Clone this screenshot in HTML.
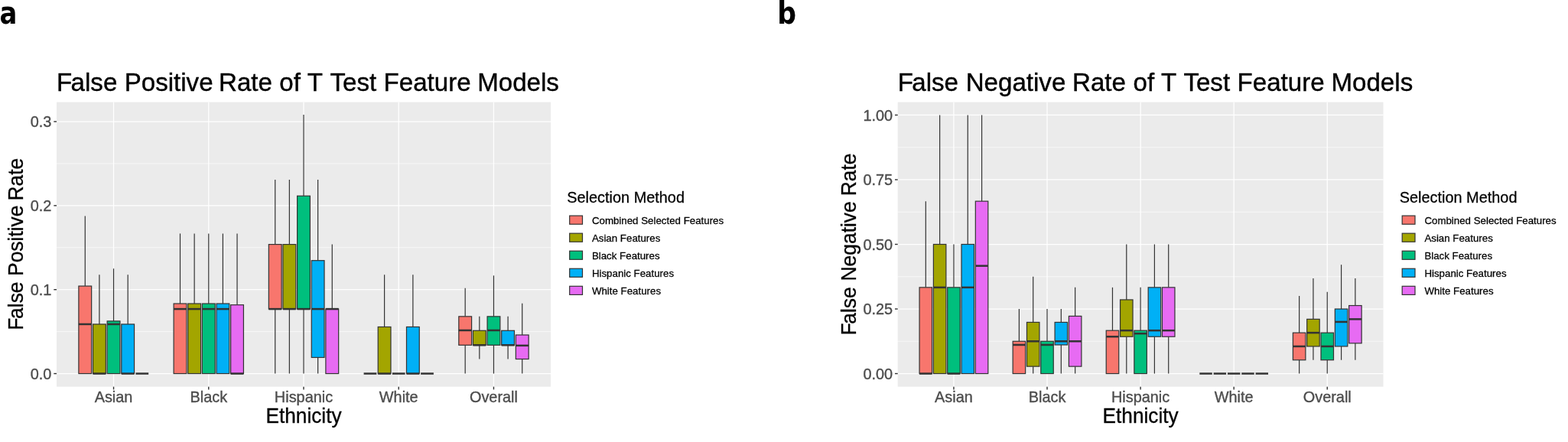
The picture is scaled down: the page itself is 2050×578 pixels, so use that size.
<!DOCTYPE html>
<html lang="en">
<head>
<meta charset="utf-8">
<title>False Positive and False Negative Rate of T Test Feature Models</title>
<style>
html,body{margin:0;padding:0;background:#fff;}
body{width:2050px;height:578px;overflow:hidden;font-family:"Liberation Sans",sans-serif;}
svg{display:block;}
text{font-family:"Liberation Sans",sans-serif;}
.gm{stroke:#fff;stroke-width:0.6;}
.gM{stroke:#fff;stroke-width:1.25;}
.w{stroke:#333;stroke-width:1.2;}
.b{stroke:#333;stroke-width:1.2;}
.m{stroke:#333;stroke-width:2.5;}
.t{stroke:#333;stroke-width:1.4;}
.k{stroke:#333;stroke-width:1.2;}
.tl{font-size:19.9px;fill:#4D4D4D;stroke:#4D4D4D;stroke-width:0.36px;}
.ti{font-size:33.1px;fill:#000;stroke:#000;stroke-width:0.4px;}
.at{font-size:26.25px;fill:#000;stroke:#000;stroke-width:0.32px;}
.yt{font-size:26.42px;}
.lt{font-size:19.9px;fill:#000;stroke:#000;stroke-width:0.25px;}
.lg{font-size:13.3px;fill:#000;stroke:#000;stroke-width:0.26px;}
.pl{font-family:"DejaVu Sans","Liberation Sans",sans-serif;font-size:39.4px;font-weight:bold;fill:#000;}
</style>
</head>
<body>
<svg width="2050" height="578" viewBox="0 0 2050 578">
<rect x="0" y="0" width="2050" height="578" fill="#fff"/>
<g class="panel">
<rect x="74" y="133.55" width="646" height="372.15" fill="#EBEBEB"/>
<line class="gm" x1="74" x2="720" y1="433.62" y2="433.62"/>
<line class="gm" x1="74" x2="720" y1="323.77" y2="323.77"/>
<line class="gm" x1="74" x2="720" y1="213.93" y2="213.93"/>
<line class="gM" x1="74" x2="720" y1="488.55" y2="488.55"/>
<line class="gM" x1="74" x2="720" y1="378.7" y2="378.7"/>
<line class="gM" x1="74" x2="720" y1="268.85" y2="268.85"/>
<line class="gM" x1="74" x2="720" y1="159" y2="159"/>
<line class="gM" x1="148.54" x2="148.54" y1="133.55" y2="505.7"/>
<line class="gM" x1="272.77" x2="272.77" y1="133.55" y2="505.7"/>
<line class="gM" x1="397" x2="397" y1="133.55" y2="505.7"/>
<line class="gM" x1="521.23" x2="521.23" y1="133.55" y2="505.7"/>
<line class="gM" x1="645.46" x2="645.46" y1="133.55" y2="505.7"/>
<line class="w" x1="111.27" x2="111.27" y1="282.58" y2="374.09"/>
<rect class="b" x="102.88" y="374.09" width="16.77" height="114.46" fill="#F8766D"/>
<line class="m" x1="102.88" x2="119.65" y1="423.96" y2="423.96"/>
<line class="w" x1="129.9" x2="129.9" y1="359.37" y2="423.96"/>
<rect class="b" x="121.52" y="423.96" width="16.77" height="64.59" fill="#A3A500"/>
<line class="m" x1="121.52" x2="138.29" y1="488.55" y2="488.55"/>
<line class="w" x1="148.54" x2="148.54" y1="351.24" y2="419.89"/>
<rect class="b" x="140.15" y="419.89" width="16.77" height="68.66" fill="#00BF7D"/>
<line class="m" x1="140.15" x2="156.92" y1="423.96" y2="423.96"/>
<line class="w" x1="167.17" x2="167.17" y1="359.37" y2="423.96"/>
<rect class="b" x="158.79" y="423.96" width="16.77" height="64.59" fill="#00B0F6"/>
<line class="m" x1="158.79" x2="175.56" y1="488.55" y2="488.55"/>
<line class="m" x1="177.42" x2="194.19" y1="488.55" y2="488.55"/>
<line class="w" x1="235.5" x2="235.5" y1="305.43" y2="397.04"/>
<rect class="b" x="227.11" y="397.04" width="16.77" height="91.51" fill="#F8766D"/>
<line class="m" x1="227.11" x2="243.89" y1="404.08" y2="404.08"/>
<line class="w" x1="254.13" x2="254.13" y1="305.43" y2="397.04"/>
<rect class="b" x="245.75" y="397.04" width="16.77" height="91.51" fill="#A3A500"/>
<line class="m" x1="245.75" x2="262.52" y1="404.08" y2="404.08"/>
<line class="w" x1="272.77" x2="272.77" y1="305.43" y2="397.04"/>
<rect class="b" x="264.38" y="397.04" width="16.77" height="91.51" fill="#00BF7D"/>
<line class="m" x1="264.38" x2="281.15" y1="404.08" y2="404.08"/>
<line class="w" x1="291.4" x2="291.4" y1="305.43" y2="397.04"/>
<rect class="b" x="283.02" y="397.04" width="16.77" height="91.51" fill="#00B0F6"/>
<line class="m" x1="283.02" x2="299.79" y1="404.08" y2="404.08"/>
<line class="w" x1="310.04" x2="310.04" y1="305.43" y2="398.69"/>
<rect class="b" x="301.65" y="398.69" width="16.77" height="89.86" fill="#E76BF3"/>
<line class="m" x1="301.65" x2="318.42" y1="488.55" y2="488.55"/>
<line class="w" x1="359.73" x2="359.73" y1="235.02" y2="319.6"/>
<line class="w" x1="359.73" x2="359.73" y1="404.08" y2="488.55"/>
<rect class="b" x="351.35" y="319.6" width="16.77" height="84.47" fill="#F8766D"/>
<line class="m" x1="351.35" x2="368.12" y1="404.08" y2="404.08"/>
<line class="w" x1="378.37" x2="378.37" y1="235.02" y2="319.6"/>
<line class="w" x1="378.37" x2="378.37" y1="404.08" y2="488.55"/>
<rect class="b" x="369.98" y="319.6" width="16.77" height="84.47" fill="#A3A500"/>
<line class="m" x1="369.98" x2="386.75" y1="404.08" y2="404.08"/>
<line class="w" x1="397" x2="397" y1="149.99" y2="256.22"/>
<line class="w" x1="397" x2="397" y1="404.08" y2="488.55"/>
<rect class="b" x="388.61" y="256.22" width="16.77" height="147.86" fill="#00BF7D"/>
<line class="m" x1="388.61" x2="405.39" y1="404.08" y2="404.08"/>
<line class="w" x1="415.63" x2="415.63" y1="235.02" y2="340.69"/>
<line class="w" x1="415.63" x2="415.63" y1="467.46" y2="488.55"/>
<rect class="b" x="407.25" y="340.69" width="16.77" height="126.77" fill="#00B0F6"/>
<line class="m" x1="407.25" x2="424.02" y1="404.08" y2="404.08"/>
<line class="w" x1="434.27" x2="434.27" y1="319.6" y2="404.08"/>
<rect class="b" x="425.88" y="404.08" width="16.77" height="84.47" fill="#E76BF3"/>
<line class="m" x1="425.88" x2="442.65" y1="404.08" y2="404.08"/>
<line class="m" x1="475.58" x2="492.35" y1="488.55" y2="488.55"/>
<line class="w" x1="502.6" x2="502.6" y1="359.37" y2="427.47"/>
<rect class="b" x="494.21" y="427.47" width="16.77" height="61.08" fill="#A3A500"/>
<line class="m" x1="494.21" x2="510.98" y1="488.55" y2="488.55"/>
<line class="m" x1="512.85" x2="529.62" y1="488.55" y2="488.55"/>
<line class="w" x1="539.87" x2="539.87" y1="359.37" y2="427.47"/>
<rect class="b" x="531.48" y="427.47" width="16.77" height="61.08" fill="#00B0F6"/>
<line class="m" x1="531.48" x2="548.25" y1="488.55" y2="488.55"/>
<line class="m" x1="550.11" x2="566.89" y1="488.55" y2="488.55"/>
<line class="w" x1="608.19" x2="608.19" y1="376.72" y2="413.85"/>
<line class="w" x1="608.19" x2="608.19" y1="451.31" y2="488.55"/>
<rect class="b" x="599.81" y="413.85" width="16.77" height="37.46" fill="#F8766D"/>
<line class="m" x1="599.81" x2="616.58" y1="431.98" y2="431.98"/>
<line class="w" x1="626.83" x2="626.83" y1="413.85" y2="432.31"/>
<line class="w" x1="626.83" x2="626.83" y1="451.31" y2="469.55"/>
<rect class="b" x="618.44" y="432.31" width="16.77" height="19" fill="#A3A500"/>
<line class="m" x1="618.44" x2="635.21" y1="451.31" y2="451.31"/>
<line class="w" x1="645.46" x2="645.46" y1="360.36" y2="413.85"/>
<line class="w" x1="645.46" x2="645.46" y1="451.31" y2="488.55"/>
<rect class="b" x="637.08" y="413.85" width="16.77" height="37.46" fill="#00BF7D"/>
<line class="m" x1="637.08" x2="653.85" y1="431.98" y2="431.98"/>
<line class="w" x1="664.1" x2="664.1" y1="413.85" y2="432.31"/>
<line class="w" x1="664.1" x2="664.1" y1="451.31" y2="469.55"/>
<rect class="b" x="655.71" y="432.31" width="16.77" height="19" fill="#00B0F6"/>
<line class="m" x1="655.71" x2="672.48" y1="451.31" y2="451.31"/>
<line class="w" x1="682.73" x2="682.73" y1="396.72" y2="438.02"/>
<line class="w" x1="682.73" x2="682.73" y1="469.55" y2="488.55"/>
<rect class="b" x="674.35" y="438.02" width="16.77" height="31.53" fill="#E76BF3"/>
<line class="m" x1="674.35" x2="691.12" y1="451.86" y2="451.86"/>
<line class="t" x1="70.3" x2="74" y1="488.55" y2="488.55"/>
<text class="tl" text-anchor="end" x="67.4" transform="matrix(1 0 0 1.03 0 495.65)">0.0</text>
<line class="t" x1="70.3" x2="74" y1="378.7" y2="378.7"/>
<text class="tl" text-anchor="end" x="67.4" transform="matrix(1 0 0 1.03 0 385.8)">0.1</text>
<line class="t" x1="70.3" x2="74" y1="268.85" y2="268.85"/>
<text class="tl" text-anchor="end" x="67.4" transform="matrix(1 0 0 1.03 0 275.95)">0.2</text>
<line class="t" x1="70.3" x2="74" y1="159" y2="159"/>
<text class="tl" text-anchor="end" x="67.4" transform="matrix(1 0 0 1.03 0 166.1)">0.3</text>
<line class="t" x1="148.54" x2="148.54" y1="505.7" y2="509.4"/>
<text class="tl" text-anchor="middle" x="148.54" transform="matrix(1 0 0 1.03 0 526.1)">Asian</text>
<line class="t" x1="272.77" x2="272.77" y1="505.7" y2="509.4"/>
<text class="tl" text-anchor="middle" x="272.77" transform="matrix(1 0 0 1.03 0 526.1)">Black</text>
<line class="t" x1="397" x2="397" y1="505.7" y2="509.4"/>
<text class="tl" text-anchor="middle" x="397" transform="matrix(1 0 0 1.03 0 526.1)">Hispanic</text>
<line class="t" x1="521.23" x2="521.23" y1="505.7" y2="509.4"/>
<text class="tl" text-anchor="middle" x="521.23" transform="matrix(1 0 0 1.03 0 526.1)">White</text>
<line class="t" x1="645.46" x2="645.46" y1="505.7" y2="509.4"/>
<text class="tl" text-anchor="middle" x="645.46" transform="matrix(1 0 0 1.03 0 526.1)">Overall</text>
<text class="ti" transform="matrix(1 0 0 1.03 0 119.4)"><tspan x="74.1 92.6">False </tspan><tspan x="162.7">Positive </tspan><tspan x="286">Rate </tspan><tspan x="365.3">of </tspan><tspan x="401.8">T </tspan><tspan x="431.5">Test </tspan><tspan x="501.6">Feature </tspan><tspan x="624.2">Models</tspan></text>
<text class="at" text-anchor="middle" x="397" transform="matrix(1 0 0 1.03 0 552.9)">Ethnicity</text>
<text class="at yt" transform="translate(29.95 319.02) rotate(-90) scale(1 1.03)"><tspan x="-112.67 -97.9">False </tspan><tspan x="-41.94">Positive </tspan><tspan x="56.49">Rate</tspan></text>
<text class="lt" x="741.3" transform="matrix(1 0 0 1.03 0 264.7)">Selection Method</text>
<rect class="k" x="744.7" y="282.1" width="16.8" height="11.1" fill="#F8766D"/>
<text class="lg" x="773.9" transform="matrix(1 0 0 1.03 0 292.85)">Combined Selected Features</text>
<rect class="k" x="744.7" y="305.15" width="16.8" height="11.1" fill="#A3A500"/>
<text class="lg" x="773.9" transform="matrix(1 0 0 1.03 0 315.9)">Asian Features</text>
<rect class="k" x="744.7" y="328.2" width="16.8" height="11.1" fill="#00BF7D"/>
<text class="lg" x="773.9" transform="matrix(1 0 0 1.03 0 338.95)">Black Features</text>
<rect class="k" x="744.7" y="351.25" width="16.8" height="11.1" fill="#00B0F6"/>
<text class="lg" x="773.9" transform="matrix(1 0 0 1.03 0 362)">Hispanic Features</text>
<rect class="k" x="744.7" y="374.3" width="16.8" height="11.1" fill="#E76BF3"/>
<text class="lg" x="773.9" transform="matrix(1 0 0 1.03 0 385.05)">White Features</text>
<text class="pl" transform="translate(-0.4 31.3) scale(0.86 1.03)">a</text>
</g>
<g class="panel">
<rect x="1173.7" y="133.55" width="634.8" height="372.15" fill="#EBEBEB"/>
<line class="gm" x1="1173.7" x2="1808.5" y1="446.29" y2="446.29"/>
<line class="gm" x1="1173.7" x2="1808.5" y1="361.76" y2="361.76"/>
<line class="gm" x1="1173.7" x2="1808.5" y1="277.24" y2="277.24"/>
<line class="gm" x1="1173.7" x2="1808.5" y1="192.71" y2="192.71"/>
<line class="gM" x1="1173.7" x2="1808.5" y1="488.55" y2="488.55"/>
<line class="gM" x1="1173.7" x2="1808.5" y1="404.02" y2="404.02"/>
<line class="gM" x1="1173.7" x2="1808.5" y1="319.5" y2="319.5"/>
<line class="gM" x1="1173.7" x2="1808.5" y1="234.97" y2="234.97"/>
<line class="gM" x1="1173.7" x2="1808.5" y1="150.45" y2="150.45"/>
<line class="gM" x1="1246.95" x2="1246.95" y1="133.55" y2="505.7"/>
<line class="gM" x1="1369.02" x2="1369.02" y1="133.55" y2="505.7"/>
<line class="gM" x1="1491.1" x2="1491.1" y1="133.55" y2="505.7"/>
<line class="gM" x1="1613.18" x2="1613.18" y1="133.55" y2="505.7"/>
<line class="gM" x1="1735.25" x2="1735.25" y1="133.55" y2="505.7"/>
<line class="w" x1="1210.32" x2="1210.32" y1="263.14" y2="375.86"/>
<rect class="b" x="1202.08" y="375.86" width="16.48" height="112.69" fill="#F8766D"/>
<line class="m" x1="1202.08" x2="1218.56" y1="488.55" y2="488.55"/>
<line class="w" x1="1228.63" x2="1228.63" y1="150.45" y2="319.5"/>
<rect class="b" x="1220.39" y="319.5" width="16.48" height="169.05" fill="#A3A500"/>
<line class="m" x1="1220.39" x2="1236.87" y1="375.86" y2="375.86"/>
<line class="w" x1="1246.95" x2="1246.95" y1="319.5" y2="375.86"/>
<rect class="b" x="1238.71" y="375.86" width="16.48" height="112.69" fill="#00BF7D"/>
<line class="m" x1="1238.71" x2="1255.19" y1="488.55" y2="488.55"/>
<line class="w" x1="1265.26" x2="1265.26" y1="150.45" y2="319.5"/>
<rect class="b" x="1257.02" y="319.5" width="16.48" height="169.05" fill="#00B0F6"/>
<line class="m" x1="1257.02" x2="1273.5" y1="375.86" y2="375.86"/>
<line class="w" x1="1283.57" x2="1283.57" y1="150.45" y2="263.14"/>
<rect class="b" x="1275.33" y="263.14" width="16.48" height="225.41" fill="#E76BF3"/>
<line class="m" x1="1275.33" x2="1291.81" y1="347.66" y2="347.66"/>
<line class="w" x1="1332.4" x2="1332.4" y1="404.02" y2="446.29"/>
<rect class="b" x="1324.16" y="446.29" width="16.48" height="42.26" fill="#F8766D"/>
<line class="m" x1="1324.16" x2="1340.64" y1="450.99" y2="450.99"/>
<line class="w" x1="1350.71" x2="1350.71" y1="361.76" y2="421.44"/>
<line class="w" x1="1350.71" x2="1350.71" y1="479.15" y2="488.55"/>
<rect class="b" x="1342.47" y="421.44" width="16.48" height="57.71" fill="#A3A500"/>
<line class="m" x1="1342.47" x2="1358.95" y1="446.29" y2="446.29"/>
<line class="w" x1="1369.02" x2="1369.02" y1="404.02" y2="446.29"/>
<rect class="b" x="1360.78" y="446.29" width="16.48" height="42.26" fill="#00BF7D"/>
<line class="m" x1="1360.78" x2="1377.26" y1="450.99" y2="450.99"/>
<line class="w" x1="1387.33" x2="1387.33" y1="404.02" y2="421.44"/>
<line class="w" x1="1387.33" x2="1387.33" y1="450.99" y2="488.55"/>
<rect class="b" x="1379.09" y="421.44" width="16.48" height="29.55" fill="#00B0F6"/>
<line class="m" x1="1379.09" x2="1395.57" y1="446.29" y2="446.29"/>
<line class="w" x1="1405.65" x2="1405.65" y1="375.86" y2="413.42"/>
<line class="w" x1="1405.65" x2="1405.65" y1="479.15" y2="488.55"/>
<rect class="b" x="1397.41" y="413.42" width="16.48" height="65.73" fill="#E76BF3"/>
<line class="m" x1="1397.41" x2="1413.89" y1="446.29" y2="446.29"/>
<line class="w" x1="1454.48" x2="1454.48" y1="375.86" y2="432.19"/>
<rect class="b" x="1446.24" y="432.19" width="16.48" height="56.36" fill="#F8766D"/>
<line class="m" x1="1446.24" x2="1462.72" y1="440.24" y2="440.24"/>
<line class="w" x1="1472.79" x2="1472.79" y1="319.5" y2="391.95"/>
<line class="w" x1="1472.79" x2="1472.79" y1="440.24" y2="488.55"/>
<rect class="b" x="1464.55" y="391.95" width="16.48" height="48.28" fill="#A3A500"/>
<line class="m" x1="1464.55" x2="1481.03" y1="432.19" y2="432.19"/>
<line class="w" x1="1491.1" x2="1491.1" y1="375.86" y2="432.19"/>
<rect class="b" x="1482.86" y="432.19" width="16.48" height="56.36" fill="#00BF7D"/>
<line class="m" x1="1482.86" x2="1499.34" y1="436.21" y2="436.21"/>
<line class="w" x1="1509.41" x2="1509.41" y1="319.5" y2="375.86"/>
<line class="w" x1="1509.41" x2="1509.41" y1="440.24" y2="488.55"/>
<rect class="b" x="1501.17" y="375.86" width="16.48" height="64.37" fill="#00B0F6"/>
<line class="m" x1="1501.17" x2="1517.65" y1="432.19" y2="432.19"/>
<line class="w" x1="1527.72" x2="1527.72" y1="319.5" y2="375.86"/>
<line class="w" x1="1527.72" x2="1527.72" y1="440.24" y2="488.55"/>
<rect class="b" x="1519.48" y="375.86" width="16.48" height="64.37" fill="#E76BF3"/>
<line class="m" x1="1519.48" x2="1535.96" y1="432.19" y2="432.19"/>
<line class="m" x1="1568.31" x2="1584.79" y1="488.55" y2="488.55"/>
<line class="m" x1="1586.63" x2="1603.11" y1="488.55" y2="488.55"/>
<line class="m" x1="1604.94" x2="1621.42" y1="488.55" y2="488.55"/>
<line class="m" x1="1623.25" x2="1639.73" y1="488.55" y2="488.55"/>
<line class="m" x1="1641.56" x2="1658.04" y1="488.55" y2="488.55"/>
<line class="w" x1="1698.63" x2="1698.63" y1="387.12" y2="435.16"/>
<line class="w" x1="1698.63" x2="1698.63" y1="470.77" y2="488.55"/>
<rect class="b" x="1690.39" y="435.16" width="16.48" height="35.6" fill="#F8766D"/>
<line class="m" x1="1690.39" x2="1706.87" y1="452.95" y2="452.95"/>
<line class="w" x1="1716.94" x2="1716.94" y1="363.99" y2="417.38"/>
<line class="w" x1="1716.94" x2="1716.94" y1="452.95" y2="470.77"/>
<rect class="b" x="1708.7" y="417.38" width="16.48" height="35.57" fill="#A3A500"/>
<line class="m" x1="1708.7" x2="1725.18" y1="435.16" y2="435.16"/>
<line class="w" x1="1735.25" x2="1735.25" y1="381.78" y2="435.16"/>
<line class="w" x1="1735.25" x2="1735.25" y1="470.77" y2="488.55"/>
<rect class="b" x="1727.01" y="435.16" width="16.48" height="35.6" fill="#00BF7D"/>
<line class="m" x1="1727.01" x2="1743.49" y1="452.95" y2="452.95"/>
<line class="w" x1="1753.57" x2="1753.57" y1="346.18" y2="404.02"/>
<line class="w" x1="1753.57" x2="1753.57" y1="452.95" y2="470.77"/>
<rect class="b" x="1745.33" y="404.02" width="16.48" height="48.92" fill="#00B0F6"/>
<line class="m" x1="1745.33" x2="1761.81" y1="420.93" y2="420.93"/>
<line class="w" x1="1771.88" x2="1771.88" y1="363.99" y2="399.56"/>
<line class="w" x1="1771.88" x2="1771.88" y1="448.86" y2="470.77"/>
<rect class="b" x="1763.64" y="399.56" width="16.48" height="49.29" fill="#E76BF3"/>
<line class="m" x1="1763.64" x2="1780.12" y1="417.38" y2="417.38"/>
<line class="t" x1="1170" x2="1173.7" y1="488.55" y2="488.55"/>
<text class="tl" text-anchor="end" x="1167.1" transform="matrix(1 0 0 1.03 0 495.65)">0.00</text>
<line class="t" x1="1170" x2="1173.7" y1="404.02" y2="404.02"/>
<text class="tl" text-anchor="end" x="1167.1" transform="matrix(1 0 0 1.03 0 411.12)">0.25</text>
<line class="t" x1="1170" x2="1173.7" y1="319.5" y2="319.5"/>
<text class="tl" text-anchor="end" x="1167.1" transform="matrix(1 0 0 1.03 0 326.6)">0.50</text>
<line class="t" x1="1170" x2="1173.7" y1="234.97" y2="234.97"/>
<text class="tl" text-anchor="end" x="1167.1" transform="matrix(1 0 0 1.03 0 242.07)">0.75</text>
<line class="t" x1="1170" x2="1173.7" y1="150.45" y2="150.45"/>
<text class="tl" text-anchor="end" x="1167.1" transform="matrix(1 0 0 1.03 0 157.55)">1.00</text>
<line class="t" x1="1246.95" x2="1246.95" y1="505.7" y2="509.4"/>
<text class="tl" text-anchor="middle" x="1246.95" transform="matrix(1 0 0 1.03 0 526.1)">Asian</text>
<line class="t" x1="1369.02" x2="1369.02" y1="505.7" y2="509.4"/>
<text class="tl" text-anchor="middle" x="1369.02" transform="matrix(1 0 0 1.03 0 526.1)">Black</text>
<line class="t" x1="1491.1" x2="1491.1" y1="505.7" y2="509.4"/>
<text class="tl" text-anchor="middle" x="1491.1" transform="matrix(1 0 0 1.03 0 526.1)">Hispanic</text>
<line class="t" x1="1613.18" x2="1613.18" y1="505.7" y2="509.4"/>
<text class="tl" text-anchor="middle" x="1613.18" transform="matrix(1 0 0 1.03 0 526.1)">White</text>
<line class="t" x1="1735.25" x2="1735.25" y1="505.7" y2="509.4"/>
<text class="tl" text-anchor="middle" x="1735.25" transform="matrix(1 0 0 1.03 0 526.1)">Overall</text>
<text class="ti" transform="matrix(1 0 0 1.03 0 119.4)"><tspan x="1173.8 1192.25">False </tspan><tspan x="1262.7">Negative </tspan><tspan x="1402">Rate </tspan><tspan x="1481.5">of </tspan><tspan x="1518.1">T </tspan><tspan x="1547.4">Test </tspan><tspan x="1617.6">Feature </tspan><tspan x="1740.5">Models</tspan></text>
<text class="at" text-anchor="middle" x="1491.1" transform="matrix(1 0 0 1.03 0 552.9)">Ethnicity</text>
<text class="at yt" transform="translate(1118.65 319.02) rotate(-90) scale(1 1.03)"><tspan x="-119.4 -104.67">False </tspan><tspan x="-48.43">Negative </tspan><tspan x="62.77">Rate</tspan></text>
<text class="lt" x="1829.8" transform="matrix(1 0 0 1.03 0 264.7)">Selection Method</text>
<rect class="k" x="1833.2" y="282.1" width="16.8" height="11.1" fill="#F8766D"/>
<text class="lg" x="1862.4" transform="matrix(1 0 0 1.03 0 292.85)">Combined Selected Features</text>
<rect class="k" x="1833.2" y="305.15" width="16.8" height="11.1" fill="#A3A500"/>
<text class="lg" x="1862.4" transform="matrix(1 0 0 1.03 0 315.9)">Asian Features</text>
<rect class="k" x="1833.2" y="328.2" width="16.8" height="11.1" fill="#00BF7D"/>
<text class="lg" x="1862.4" transform="matrix(1 0 0 1.03 0 338.95)">Black Features</text>
<rect class="k" x="1833.2" y="351.25" width="16.8" height="11.1" fill="#00B0F6"/>
<text class="lg" x="1862.4" transform="matrix(1 0 0 1.03 0 362)">Hispanic Features</text>
<rect class="k" x="1833.2" y="374.3" width="16.8" height="11.1" fill="#E76BF3"/>
<text class="lg" x="1862.4" transform="matrix(1 0 0 1.03 0 385.05)">White Features</text>
<text class="pl" transform="translate(1016.2 31.3) scale(0.88 1.035)">b</text>
</g>
</svg>
</body>
</html>
